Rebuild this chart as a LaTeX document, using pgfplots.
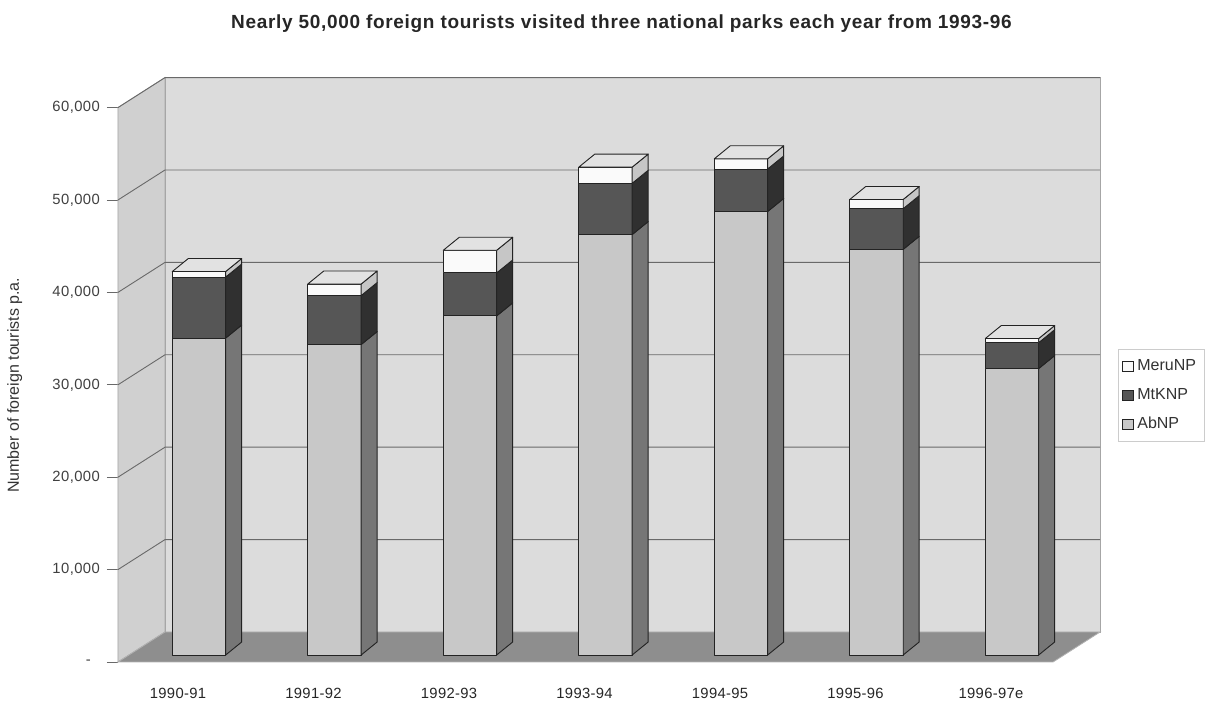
\documentclass[border=0pt]{standalone}
\usepackage{pgfplots}
\pgfplotsset{compat=1.18}
\usepackage{pgfplotstable}
\usepackage{fontspec}
\setmainfont{Liberation Sans}
\usetikzlibrary{backgrounds}

\definecolor{wallback}{RGB}{220,220,220}
\definecolor{wallleft}{RGB}{208,208,208}
\definecolor{floorc}{RGB}{142,142,142}
\definecolor{abfront}{RGB}{200,200,200}
\definecolor{abside}{RGB}{118,118,118}
\definecolor{mtfront}{RGB}{86,86,86}
\definecolor{mtside}{RGB}{48,48,48}
\definecolor{mefront}{RGB}{250,250,250}
\definecolor{meside}{RGB}{198,198,198}
\definecolor{topc}{RGB}{226,226,226}
\definecolor{edgec}{RGB}{35,35,35}
\definecolor{gridc}{RGB}{105,105,105}

% foreign tourists per year in each park
\pgfplotstableread{
idx AbNP  MtKNP MeruNP
0   34300 6600  600
1   33600 5300  1250
2   36700 4650  2450
3   45500 5550  1750
4   48000 4600  1100
5   43900 4400  1000
6   31000 2800  450
}\parks

% 3-D look: column half width and depth offsets
\def\bw{0.197}
\def\bdx{0.118}
\def\bdy{1407}

\newcommand\fcalc[2]{\begingroup
  \pgfkeys{/pgf/fpu=true,/pgf/fpu/output format=fixed}%
  \pgfmathparse{#2}\xdef#1{\pgfmathresult}\endgroup}

\begin{document}
\begin{tikzpicture}
\begin{axis}[
  scale only axis,
  width=491.05pt, height=292.2pt,
  xmin=-0.598, xmax=6.65,
  ymin=-758, ymax=62489,
  clip=false,
  axis lines*=left,
  axis line style={draw=none},
  tick align=outside,
  major tick length=5.5pt,
  scaled y ticks=false,
  xtick={0,...,6},
  xticklabels={1990-91,1991-92,1992-93,1993-94,1994-95,1995-96,1996-97e},
  xtick style={draw=none},
  xticklabel style={font=\fontsize{7.4}{8}\selectfont\addfontfeature{LetterSpace=2}, text=black!85, xshift=-10.5pt, yshift=-4pt},
  ytick={-758,9242,19242,29242,39242,49242,59242},
  yticklabels={{-\ \ \ },{10,000},{20,000},{30,000},{40,000},{50,000},{60,000}},
  ytick style={draw=gridc, line width=0.4pt},
  yticklabel style={font=\fontsize{7.4}{8}\selectfont\addfontfeature{LetterSpace=3}, text=black!75},
  ylabel={Number of foreign tourists p.a.},
  ylabel style={at={(axis description cs:-0.105,0.4735)}, anchor=center,
    font=\fontsize{8}{9}\selectfont, text=black!80},
  title={Nearly 50,000 foreign tourists visited three national parks each year from 1993-96},
  title style={at={(axis description cs:0.5127,1.072)}, anchor=center,
    font=\fontsize{9.5}{11}\selectfont\bfseries\addfontfeature{LetterSpace=3.6}, text=black!85},
  legend style={at={(axis description cs:1.018,0.456)}, anchor=west,
    draw=gray!40, fill=none, font=\fontsize{8}{9.6}\selectfont,
    row sep=3.5pt, inner xsep=2pt, inner ysep=3pt, text=black!80},
  legend cell align=left,
  legend image code/.code={\draw[#1] (0pt,-2.6pt) rectangle (5.2pt,2.6pt);},
  barface/.style={draw=edgec, line width=0.45pt, line join=round, forget plot},
  gridline/.style={draw=gridc, line width=0.45pt, forget plot},
]
\addlegendimage{fill=mefront, draw=edgec}
\addlegendentry{MeruNP}
\addlegendimage{fill=mtfront, draw=edgec}
\addlegendentry{MtKNP}
\addlegendimage{fill=abfront, draw=edgec}
\addlegendentry{AbNP}

% walls and floor
\addplot[fill=wallback, draw=gray!70, line width=0.4pt, forget plot]
  coordinates {(-0.251,2489) (6.65,2489) (6.65,62489) (-0.251,62489)} -- cycle;
\addplot[fill=wallleft, draw=gray!70, line width=0.4pt, forget plot]
  coordinates {(-0.598,-758) (-0.251,2489) (-0.251,62489) (-0.598,59242)} -- cycle;
\addplot[fill=floorc, draw=gray!60, line width=0.4pt, forget plot]
  coordinates {(-0.598,-758) (6.303,-758) (6.65,2489) (-0.251,2489)} -- cycle;

% gridlines across the side wall and the back wall
\pgfplotsinvokeforeach{1,...,6}{
  \fcalc\gf{#1*10000-758}
  \fcalc\gb{#1*10000+2489}
  \addplot[gridline] coordinates {(-0.598,\gf) (-0.251,\gb) (6.65,\gb)};
}

% stacked columns with side and top faces
\pgfplotsinvokeforeach{0,...,6}{
  \pgfplotstablegetelem{#1}{AbNP}\of\parks \let\vA\pgfplotsretval
  \pgfplotstablegetelem{#1}{MtKNP}\of\parks \let\vB\pgfplotsretval
  \pgfplotstablegetelem{#1}{MeruNP}\of\parks \let\vC\pgfplotsretval
  \fcalc\ya{\vA}
  \fcalc\yb{\vA+\vB}
  \fcalc\yc{\vA+\vB+\vC}
  \fcalc\yad{\vA+\bdy}
  \fcalc\ybd{\vA+\vB+\bdy}
  \fcalc\ycd{\vA+\vB+\vC+\bdy}
  \fcalc\xl{#1-\bw}
  \fcalc\xr{#1+\bw}
  \fcalc\xld{#1-\bw+\bdx}
  \fcalc\xrd{#1+\bw+\bdx}
  \addplot[barface, fill=abfront] coordinates {(\xl,0) (\xr,0) (\xr,\ya) (\xl,\ya)} -- cycle;
  \addplot[barface, fill=abside] coordinates {(\xr,0) (\xrd,\bdy) (\xrd,\yad) (\xr,\ya)} -- cycle;
  \addplot[barface, fill=mtfront] coordinates {(\xl,\ya) (\xr,\ya) (\xr,\yb) (\xl,\yb)} -- cycle;
  \addplot[barface, fill=mtside] coordinates {(\xr,\ya) (\xrd,\yad) (\xrd,\ybd) (\xr,\yb)} -- cycle;
  \addplot[barface, fill=mefront] coordinates {(\xl,\yb) (\xr,\yb) (\xr,\yc) (\xl,\yc)} -- cycle;
  \addplot[barface, fill=meside] coordinates {(\xr,\yb) (\xrd,\ybd) (\xrd,\ycd) (\xr,\yc)} -- cycle;
  \addplot[barface, fill=topc] coordinates {(\xl,\yc) (\xr,\yc) (\xrd,\ycd) (\xld,\ycd)} -- cycle;
}

\coordinate (bbsw) at (axis cs:-1.4686,-5087);
\coordinate (bbne) at (axis cs:7.4539,70887);
\end{axis}
\pgfresetboundingbox
\path[use as bounding box] (bbsw) rectangle (bbne);
\begin{scope}[on background layer]
  \fill[white] (bbsw) rectangle (bbne);
\end{scope}
\end{tikzpicture}
\end{document}
